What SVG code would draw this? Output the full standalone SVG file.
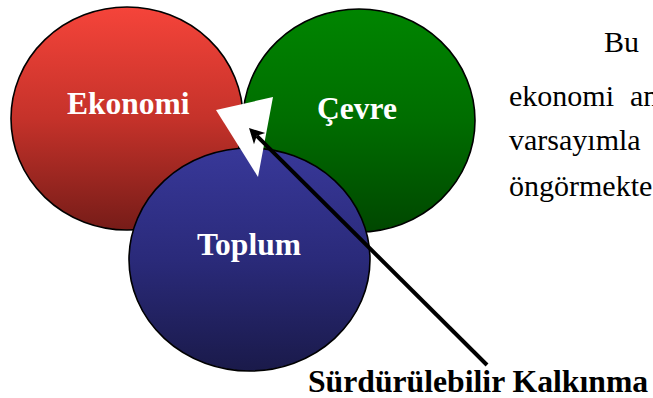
<svg xmlns="http://www.w3.org/2000/svg" width="653" height="398" viewBox="0 0 653 398">
<style>
.circ{stroke:#000;stroke-width:1.6}
.lbl{font-family:"Liberation Serif","Times New Roman",serif;font-weight:bold;font-size:31.5px;fill:#fff}
.body{font-family:"Liberation Serif","Times New Roman",serif;font-size:30px;fill:#000}
.cap{font-family:"Liberation Serif","Times New Roman",serif;font-weight:bold;font-size:31.7px;fill:#000}
</style>
<defs>
<linearGradient id="gRed" x1="0" y1="0" x2="0" y2="1">
<stop offset="0" stop-color="#f5443a"/>
<stop offset="0.5" stop-color="#c5322a"/>
<stop offset="1" stop-color="#761c18"/>
</linearGradient>
<linearGradient id="gGreen" x1="0" y1="0" x2="0" y2="1">
<stop offset="0" stop-color="#008500"/>
<stop offset="0.5" stop-color="#006d00"/>
<stop offset="1" stop-color="#004700"/>
</linearGradient>
<linearGradient id="gBlue" x1="0" y1="0" x2="0" y2="1">
<stop offset="0" stop-color="#383899"/>
<stop offset="0.5" stop-color="#2a2a7a"/>
<stop offset="1" stop-color="#1a1a4a"/>
</linearGradient>
<marker id="arr" markerUnits="userSpaceOnUse" viewBox="-6 -10 20 20" markerWidth="20" markerHeight="20" refX="0" refY="0" orient="auto" overflow="visible">
<path d="M11,0 L-4,-8 L0,0 L-4,8 Z" fill="#000"/>
</marker>
</defs>
<g id="ekonomi">
<ellipse class="circ" cx="127" cy="118.5" rx="116" ry="111.5" fill="url(#gRed)"/>
<text class="lbl" x="67" y="114">Ekonomi</text>
</g>
<g id="cevre">
<ellipse class="circ" cx="359" cy="120.5" rx="116" ry="111.5" fill="url(#gGreen)"/>
<text class="lbl" x="317" y="119">Çevre</text>
</g>
<g id="toplum">
<ellipse class="circ" cx="249.5" cy="259.5" rx="120.5" ry="111.5" fill="url(#gBlue)"/>
<text class="lbl" x="197" y="255">Toplum</text>
</g>
<g id="kesisim">
<polygon points="216,110 273,97 258,177" fill="#fff"/>
</g>
<g id="connectors">
<line x1="487" y1="365" x2="256.8" y2="135.8" stroke="#000" stroke-width="4" marker-end="url(#arr)"/>
</g>
<g id="surdurulebilir">
<text class="cap" x="308" y="392">Sürdürülebilir Kalkınma</text>
</g>
<g id="metin">
<text class="body" x="604" y="52">Bu</text>
<text class="body" x="509" y="106">ekonomi<tspan x="630">an</tspan></text>
<text class="body" x="509" y="150">varsayımla</text>
<text class="body" x="509" y="196">öngörmekte</text>
</g>
</svg>
